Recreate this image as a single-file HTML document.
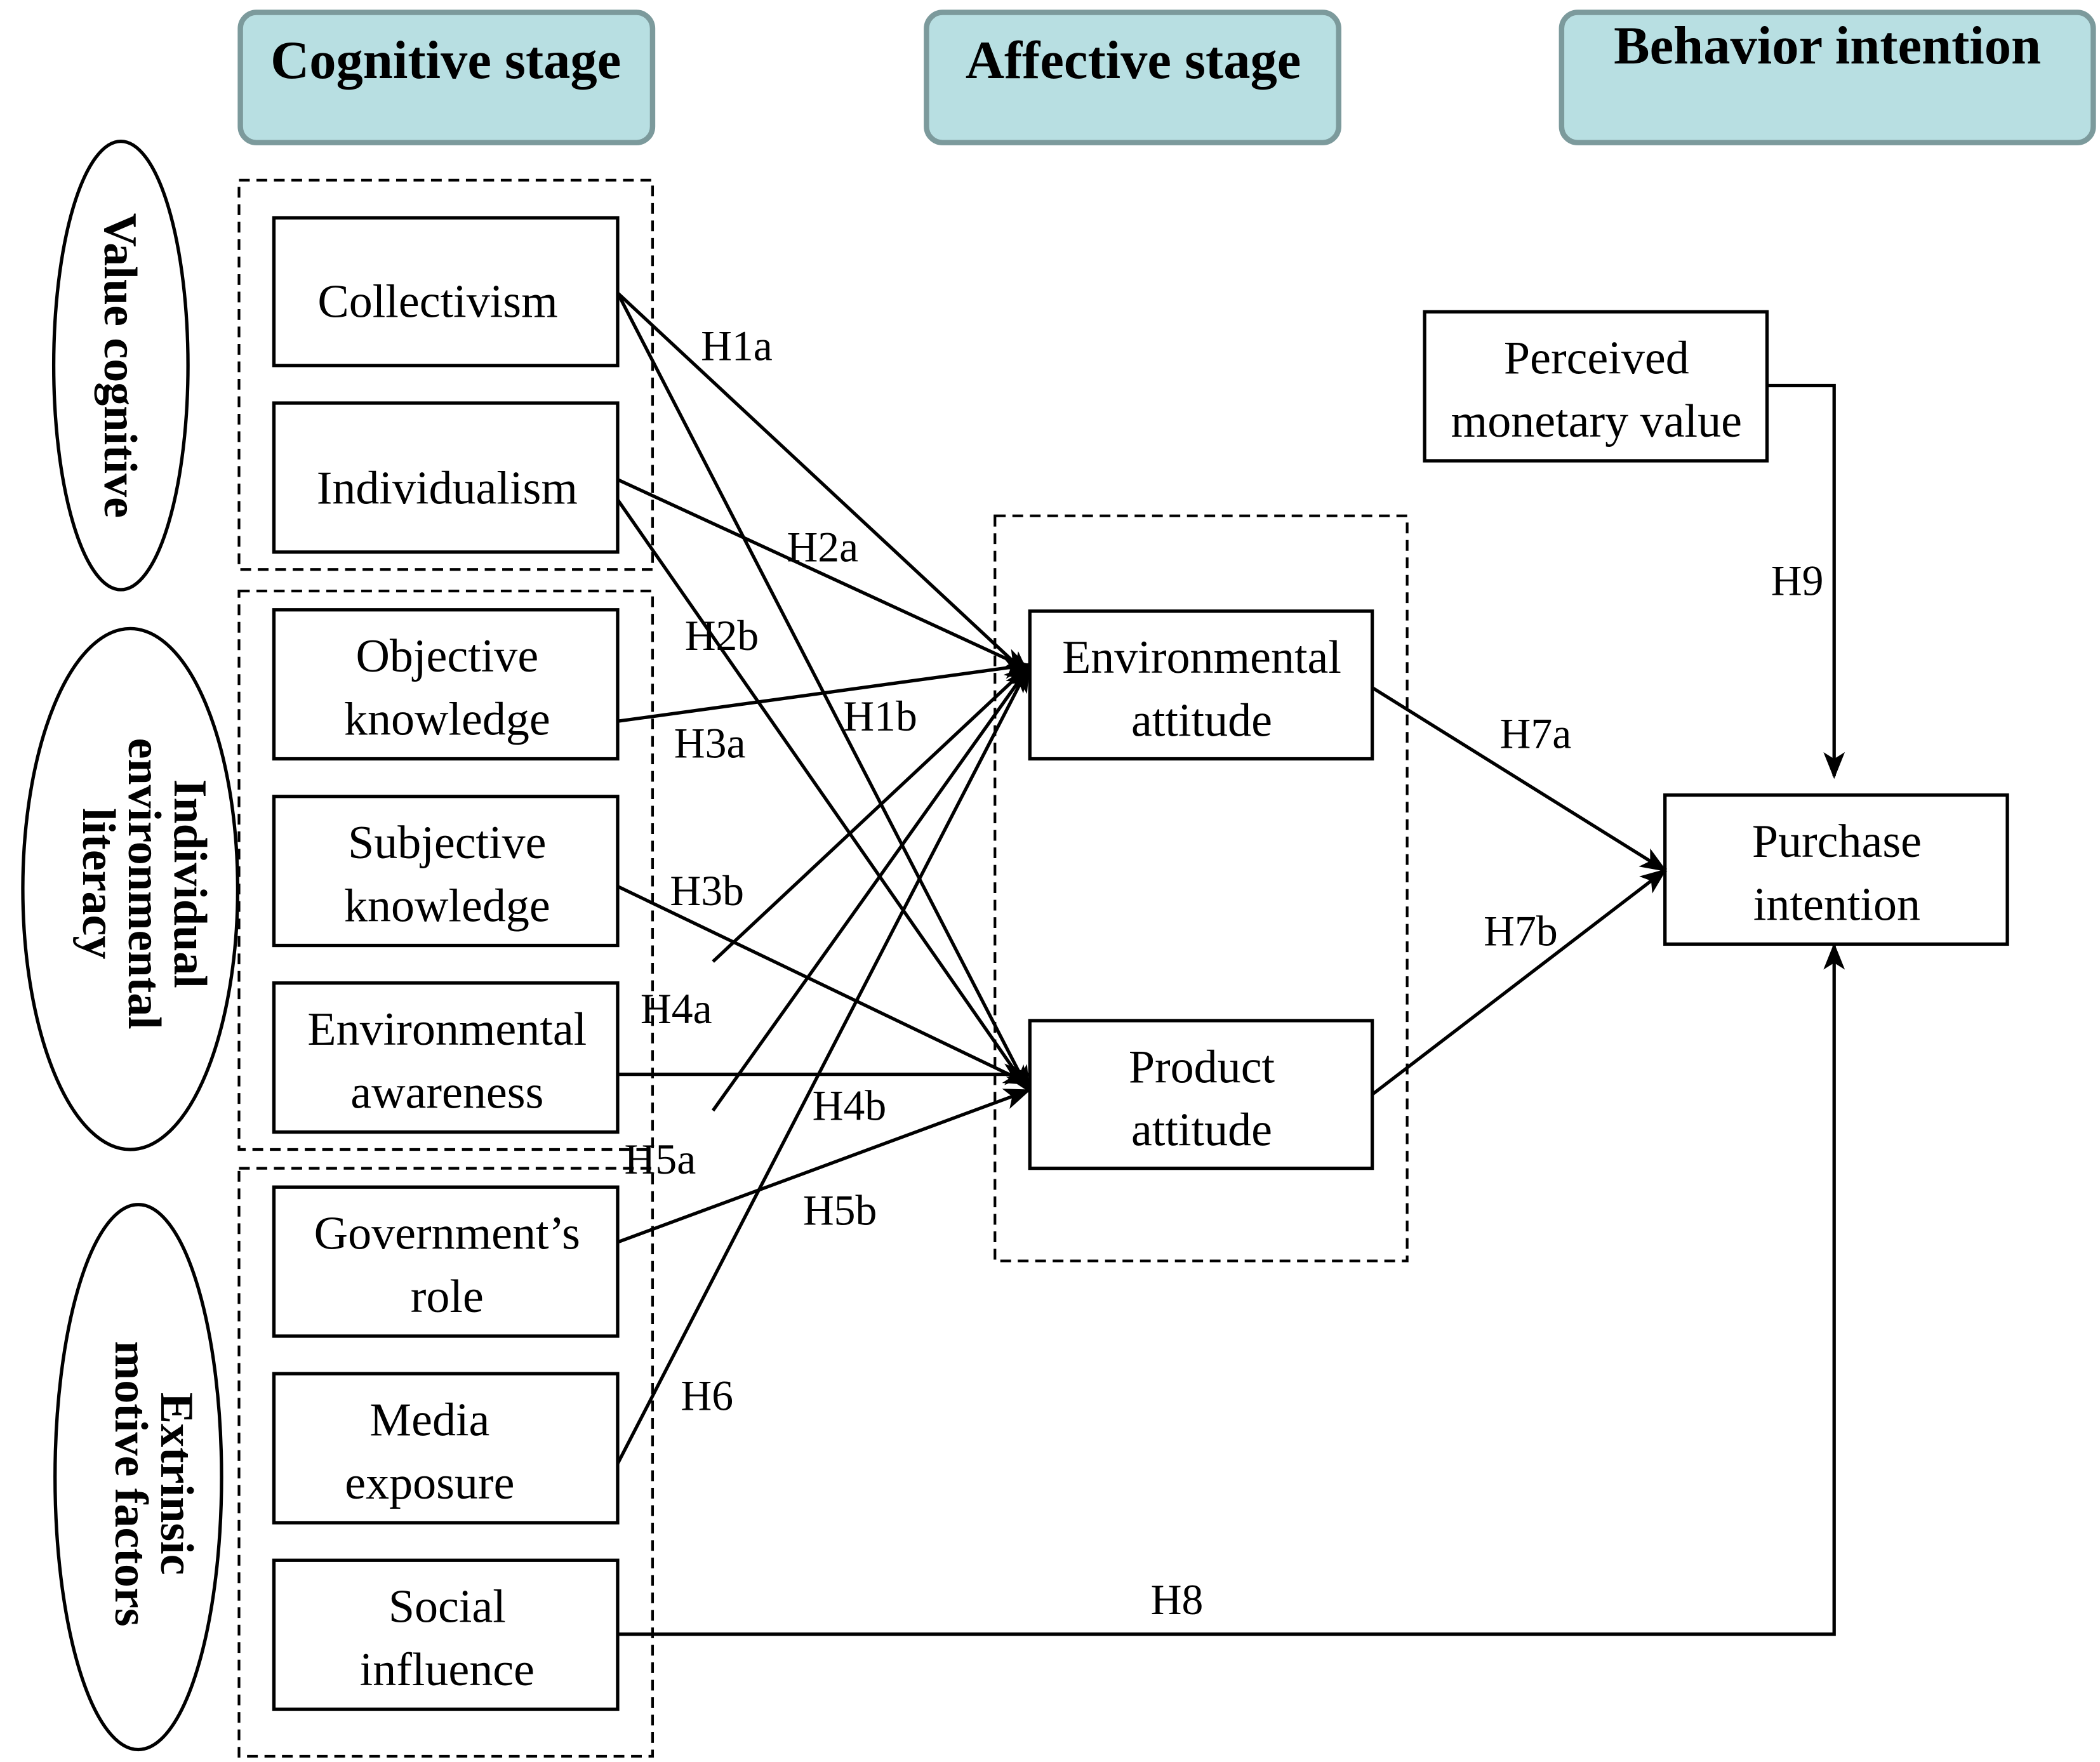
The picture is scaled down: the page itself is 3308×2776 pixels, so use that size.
<!DOCTYPE html>
<html><head><meta charset="utf-8"><style>html,body{margin:0;padding:0;background:#fff}svg{display:block}</style></head><body>
<svg width="3308" height="2776" viewBox="0 0 1564 1312" xmlns="http://www.w3.org/2000/svg" font-family="Liberation Serif, serif">
<defs>
<marker id="b" markerWidth="20" markerHeight="16" refX="18" refY="8" orient="auto" markerUnits="userSpaceOnUse" viewBox="0 0 20 16"><path d="M0,0 L20,8 L0,16 L5,8 Z" fill="#000"/></marker></defs>
<g fill="#b8dfe2" stroke="#7c9a9c" stroke-width="4">
<rect x="179" y="9" width="307" height="97" rx="12"/>
<rect x="690" y="9" width="307" height="97" rx="12"/>
<rect x="1163" y="9" width="396" height="97" rx="12"/>
</g>
<g font-weight="bold" font-size="40" text-anchor="middle">
<text x="332" y="58">Cognitive stage</text>
<text x="844" y="58">Affective stage</text>
<text x="1361" y="47">Behavior intention</text>
</g>
<g fill="none" stroke="#000" stroke-width="2.5">
<ellipse cx="90" cy="272" rx="50" ry="167"/>
<ellipse cx="97" cy="662" rx="80" ry="194"/>
<ellipse cx="103" cy="1100" rx="62" ry="203"/>
</g>
<g font-weight="bold" font-size="35" text-anchor="middle">
<text transform="translate(78,272) rotate(90)">Value cognitive</text>
<text transform="translate(130,658) rotate(90)">Individual</text>
<text transform="translate(96,658) rotate(90)">environmental</text>
<text transform="translate(62,658) rotate(90)">literacy</text>
<text transform="translate(120,1105) rotate(90)">Extrinsic</text>
<text transform="translate(86,1105) rotate(90)">motive factors</text>
</g>
<g fill="none" stroke="#000" stroke-width="2" stroke-dasharray="8,5">
<rect x="178" y="134" width="308" height="290"/>
<rect x="178" y="440" width="308" height="416"/>
<rect x="178" y="870" width="308" height="438"/>
<rect x="741" y="384" width="307" height="555"/>
</g>
<g fill="#fff" stroke="#000" stroke-width="2.5">
<rect x="204" y="162" width="256" height="110"/>
<rect x="204" y="300" width="256" height="111"/>
<rect x="204" y="454" width="256" height="111"/>
<rect x="204" y="593" width="256" height="111"/>
<rect x="204" y="732" width="256" height="111"/>
<rect x="204" y="884" width="256" height="111"/>
<rect x="204" y="1023" width="256" height="111"/>
<rect x="204" y="1162" width="256" height="111"/>
<rect x="767" y="455" width="255" height="110"/>
<rect x="767" y="760" width="255" height="110"/>
<rect x="1061" y="232" width="255" height="111"/>
<rect x="1240" y="592" width="255" height="111"/>
</g>
<g font-size="35" text-anchor="middle">
<text x="326" y="236">Collectivism</text>
<text x="333" y="375">Individualism</text>
<text x="333" y="500">Objective</text><text x="333" y="547">knowledge</text>
<text x="333" y="639">Subjective</text><text x="333" y="686">knowledge</text>
<text x="333" y="778">Environmental</text><text x="333" y="825">awareness</text>
<text x="333" y="930">Government’s</text><text x="333" y="977">role</text>
<text x="320" y="1069">Media</text><text x="320" y="1116">exposure</text>
<text x="333" y="1208">Social</text><text x="333" y="1255">influence</text>
<text x="895" y="501">Environmental</text><text x="895" y="548">attitude</text>
<text x="895" y="806">Product</text><text x="895" y="853">attitude</text>
<text x="1189" y="278">Perceived</text><text x="1189" y="325">monetary value</text>
<text x="1368" y="638">Purchase</text><text x="1368" y="685">intention</text>
</g>
<g fill="none" stroke="#000" stroke-width="2.5" marker-end="url(#b)">
<line x1="460" y1="218" x2="766" y2="503"/>
<line x1="460" y1="218" x2="766" y2="812"/>
<line x1="460" y1="357" x2="766" y2="498"/>
<line x1="460" y1="372" x2="766" y2="812"/>
<line x1="460" y1="537" x2="766" y2="495"/>
<line x1="460" y1="660" x2="766" y2="807"/>
<line x1="531" y1="716" x2="766" y2="496"/>
<line x1="460" y1="800" x2="766" y2="800"/>
<line x1="531" y1="827" x2="766" y2="497"/>
<line x1="460" y1="925" x2="766" y2="812"/>
<line x1="460" y1="1090" x2="766" y2="497"/>
<line x1="1022" y1="512" x2="1240" y2="648"/>
<line x1="1022" y1="815" x2="1240" y2="648"/>
<polyline points="1316,287 1366,287 1366,578"/>
<polyline points="460,1217 1366,1217 1366,704"/>
</g>
<g font-size="32">
<text x="522" y="268">H1a</text>
<text x="586" y="418">H2a</text>
<text x="510" y="484">H2b</text>
<text x="628" y="544">H1b</text>
<text x="502" y="564">H3a</text>
<text x="499" y="674">H3b</text>
<text x="477" y="762">H4a</text>
<text x="605" y="834">H4b</text>
<text x="465" y="874">H5a</text>
<text x="598" y="912">H5b</text>
<text x="507" y="1050">H6</text>
<text x="1117" y="557">H7a</text>
<text x="1105" y="704">H7b</text>
<text x="1319" y="443">H9</text>
<text x="857" y="1202">H8</text>
</g>
</svg>
</body></html>
